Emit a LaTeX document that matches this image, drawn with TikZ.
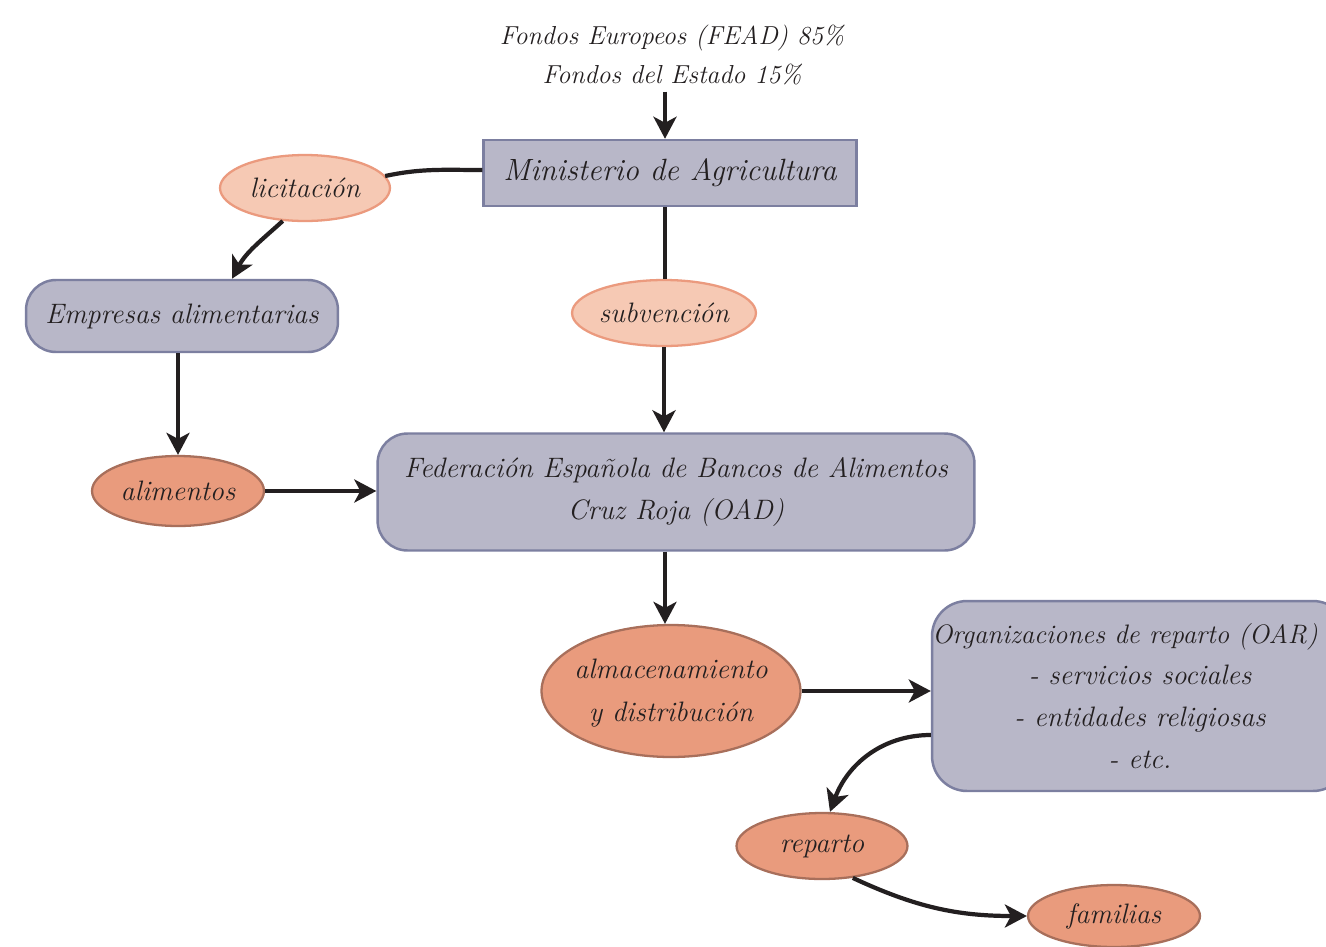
\documentclass[tikz,border=0pt]{standalone}
\usetikzlibrary{shapes.geometric,arrows.meta}
\definecolor{boxfill}{HTML}{B8B7C8}
\definecolor{boxdraw}{HTML}{7C7FA0}
\definecolor{lightfill}{HTML}{F6C9B4}
\definecolor{lightdraw}{HTML}{EB9A7E}
\definecolor{darkfill}{HTML}{E99B7D}
\definecolor{darkdraw}{HTML}{A86F5B}
\definecolor{arrowcol}{HTML}{231F20}
\newcommand{\flatlines}[1]{\makebox[0pt]{\smash{\raisebox{-0.3em}{\begin{tabular}{@{}c@{}}#1\end{tabular}}}}}
\tikzset{
  txt/.style={font=\fontsize{16}{24}\selectfont\itshape, text=arrowcol},
  boxnode/.style={txt, draw=boxdraw, fill=boxfill, line width=1.4pt, inner sep=0pt, align=center},
  lightell/.style={txt, ellipse, draw=lightdraw, fill=lightfill, line width=1.3pt, inner sep=0pt, align=center},
  darkell/.style={txt, ellipse, draw=darkdraw, fill=darkfill, line width=1.3pt, inner sep=0pt, align=center},
  conn/.style={draw=arrowcol, line width=2.4pt},
  arr/.style={conn, -{Stealth[length=4.4mm, width=4.6mm, inset=1.2mm]}}
}
\begin{document}
\begin{tikzpicture}[x=0.02cm, y=-0.02cm]
\path[use as bounding box, clip] (0,0) rectangle (1326,947);
\fill[white] (0,0) rectangle (1326,947);

% nodes
\node[txt, align=center, font=\fontsize{14.8}{22.7}\selectfont\itshape] (fondos) at (672,55) {Fondos Europeos (FEAD) 85\%\\Fondos del Estado 15\%};
\node[boxnode, minimum width=7.46cm, minimum height=1.32cm, font=\fontsize{17.5}{24}\selectfont\itshape] (min) at (670,173) {Ministerio de Agricultura};
\node[lightell, minimum width=3.4cm, minimum height=1.32cm] (lic) at (305,188) {licitación};
\node[boxnode, rounded corners=0.6cm, minimum width=6.24cm, minimum height=1.44cm] (emp) at (182,316) {Empresas alimentarias};
\node[lightell, minimum width=3.42cm, minimum height=1.32cm] (sub) at (664,313) {subvención};
\node[boxnode, rounded corners=0.6cm, minimum width=11.94cm, minimum height=2.34cm, font=\fontsize{16}{24.4}\selectfont\itshape] (fed) at (676,492) {Federación Española de Bancos de Alimentos\\Cruz Roja (OAD)};
\node[darkell, minimum width=3.44cm, minimum height=1.4cm] (ali) at (178,491) {alimentos};
\node[darkell, minimum width=5.18cm, minimum height=2.64cm, font=\fontsize{16}{24.4}\selectfont\itshape] (alm) at (671,691) {\flatlines{almacenamiento\\y distribución}};
\node[boxnode, rounded corners=0.7cm, minimum width=8.32cm, minimum height=3.8cm, font=\fontsize{16}{23.8}\selectfont\itshape] (oar) at (1140,696) {\hspace*{-0.6cm}{\fontsize{15.2}{23.8}\selectfont Organizaciones de reparto (OAR)}\\- servicios sociales\\- entidades religiosas\\- etc.};
\node[darkell, minimum width=3.42cm, minimum height=1.32cm] (rep) at (822,846) {reparto};
\node[darkell, minimum width=3.44cm, minimum height=1.24cm] (fam) at (1114,916) {familias};

% connectors
\draw[arr] ([xshift=-0.1cm]min.north |- fondos.south) -- ([xshift=-0.1cm]min.north);
\draw[conn] ([yshift=0.06cm]min.west) to[out=180, in=12] ([xshift=-0.12cm, yshift=0.24cm]lic.east);
\draw[arr] (lic.-124) to[out=-138, in=62] ([xshift=1cm]emp.north);
\draw[conn] ([xshift=-0.1cm]min.south) -- ([xshift=-0.1cm]min.south |- sub.north);
\draw[arr] (sub.south) -- (sub.south |- fed.north);
\draw[arr] (emp.south -| ali.north) -- (ali.north);
\draw[arr] (ali.east) -- (fed.west |- ali.east);
\draw[arr] ([xshift=-0.12cm]alm.north |- fed.south) -- ([xshift=-0.12cm]alm.north);
\draw[arr] (alm.east) -- (oar.west |- alm.east);
\draw[arr] ([yshift=-0.78cm]oar.west) to[out=180, in=70] ([xshift=0.16cm]rep.north);
\draw[arr] (rep.-46) to[out=-25, in=180] (fam.west);
\end{tikzpicture}
\end{document}
